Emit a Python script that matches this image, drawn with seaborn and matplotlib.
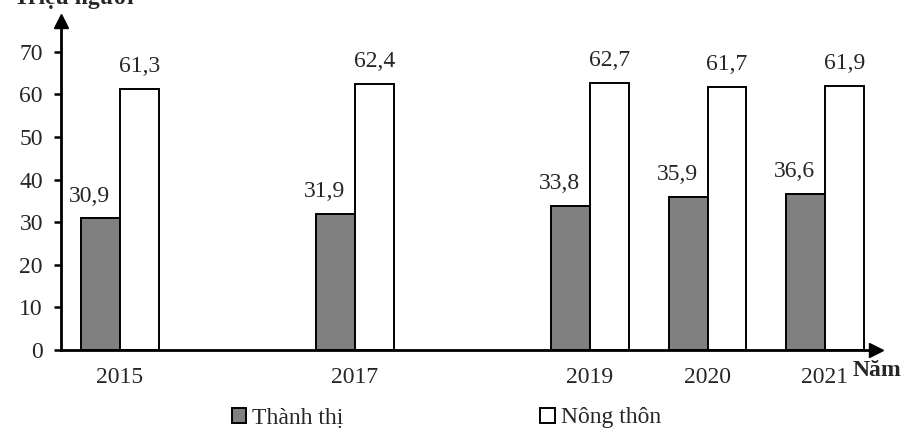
import matplotlib
matplotlib.use("Agg")
import matplotlib.pyplot as plt
from matplotlib.patches import Patch
import seaborn as sns
import pandas as pd

years = [2015, 2017, 2019, 2020, 2021]
thanh_thi = [30.9, 31.9, 33.8, 35.9, 36.6]
nong_thon = [61.3, 62.4, 62.7, 61.7, 61.9]
series_names = ["Thành thị", "Nông thôn"]
y_ticks = [0, 10, 20, 30, 40, 50, 60, 70]

df = pd.DataFrame({
    "Năm": years * 2,
    "Giá trị": thanh_thi + nong_thon,
    "Khu vực": [series_names[0]] * len(years) + [series_names[1]] * len(years),
})

sns.set_style("white")
plt.rcParams["font.family"] = ["Liberation Serif", "DejaVu Serif"]
FS = 17

W, H = 915, 434
fig = plt.figure(figsize=(W / 100, H / 100), dpi=100)
ax_left, ax_right, ax_bottom, ax_top = 61, 876, 350, 21
ax = fig.add_axes([ax_left / W, (H - ax_bottom) / H, (ax_right - ax_left) / W, (ax_bottom - ax_top) / H])

sns.barplot(data=df, x="Năm", y="Giá trị", hue="Khu vực", native_scale=True,
            palette=["#808080", "white"], edgecolor="black", linewidth=1.4,
            width=0.66, gap=0, ax=ax, legend=False)

ax.set_xlim(2014.498, 2021.434)
ax.set_ylim(0, 77.2)
ax.set_yticks(y_ticks)
ax.set_yticklabels([str(t) for t in y_ticks], fontsize=FS)
ax.set_xticks(years)
ax.set_xticklabels([str(y) for y in years], fontsize=FS)
ax.tick_params(axis="y", direction="out", length=5, width=1.8, color="black", pad=8, left=True)
ax.tick_params(axis="x", length=0, pad=12)
ax.set_xlabel("")
ax.set_ylabel("")
for s in ["top", "right"]:
    ax.spines[s].set_visible(False)
for s in ["left", "bottom"]:
    ax.spines[s].set_color("black")
    ax.spines[s].set_linewidth(2)

# arrows at the ends of the axes
ax.plot(0, 1, marker="^", color="black", markersize=10, transform=ax.transAxes, clip_on=False)
ax.plot(1, 0, marker=">", color="black", markersize=10, transform=ax.transAxes, clip_on=False)

for i, cont in enumerate(ax.containers):
    labels = [f"{b.get_height():.1f}".replace(".", ",") for b in cont]
    anns = ax.bar_label(cont, labels=labels, padding=8.5, fontsize=FS)
    if i == 0:
        for a in anns:
            a.xyann = (-8, 8.5)

fig.text(853 / W, (H - 370) / H, "Năm", fontsize=FS, fontweight="bold", ha="left", va="center")
fig.text(14 / W, 1 - 4 / H, "Triệu người", fontsize=FS, fontweight="bold", ha="left", va="baseline")

handles = [Patch(facecolor="#808080", edgecolor="black", linewidth=1.4),
           Patch(facecolor="white", edgecolor="black", linewidth=1.4)]
fig.legend(handles, series_names, loc="center left", bbox_to_anchor=(232 / W, (H - 418) / H),
           ncol=2, frameon=False, fontsize=FS, handlelength=0.6, handleheight=0.6,
           handletextpad=0.25, columnspacing=8.35, borderaxespad=0, borderpad=0)

fig.savefig("out.png", dpi=100)
